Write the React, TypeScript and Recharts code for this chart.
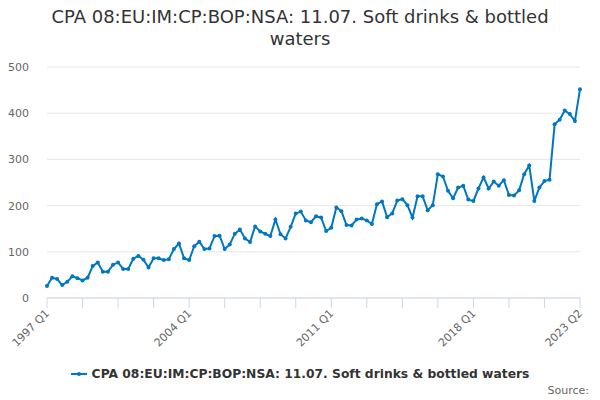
import { CartesianGrid, Line, LineChart, XAxis, YAxis } from "recharts"

const title = "CPA 08:EU:IM:CP:BOP:NSA: 11.07. Soft drinks & bottled waters"

// quarterly values, 1997 Q1 .. 2023 Q2
const values = [
  26, 44, 41, 28, 35, 47, 43, 38, 44, 69, 77, 57, 57, 72, 77, 63,
  63, 85, 91, 83, 66, 86, 86, 82, 84, 106, 118, 86, 82, 112, 122, 106,
  107, 134, 135, 106, 116, 139, 148, 129, 121, 155, 144, 139, 134, 170, 138, 129,
  154, 183, 187, 168, 164, 177, 174, 145, 152, 196, 188, 158, 157, 170, 172, 168,
  160, 203, 209, 175, 183, 211, 214, 201, 174, 220, 220, 190, 201, 268, 263, 232,
  216, 239, 243, 213, 210, 237, 261, 237, 252, 243, 255, 223, 222, 233, 268, 287,
  210, 239, 253, 256, 376, 386, 406, 398, 383, 452,
]

const startYear = 1997
const startQuarter = 1
const xTicks = [0, 7, 14, 21, 28, 35, 42, 49, 56, 63, 70, 77, 84, 91, 98, 105]
const labelledTicks = [0, 28, 56, 84, 105]
const yTicks = [0, 100, 200, 300, 400, 500]

const quarterLabel = (i: number) => {
  const q = startQuarter - 1 + i
  return `${startYear + Math.floor(q / 4)} Q${(q % 4) + 1}`
}

const data = values.map((v, i) => ({ idx: i, period: quarterLabel(i), value: v }))

const XTick = (props: any) => {
  const { x, y, payload } = props
  if (!labelledTicks.includes(payload.value)) return null
  return (
    <text
      x={x + 3}
      y={y + 4}
      textAnchor="end"
      fontSize={11}
      fill="#666666"
      fontFamily="DejaVu Sans"
      transform={`rotate(-45, ${x + 3}, ${y + 4})`}
    >
      {quarterLabel(payload.value)}
    </text>
  )
}

const YTick = (props: any) => {
  const { y, payload } = props
  return (
    <text x={29} y={y + 4} textAnchor="end" fontSize={11} fill="#666666" fontFamily="DejaVu Sans">
      {payload.value}
    </text>
  )
}

export default function App() {
  return (
    <div
      style={{
        position: "absolute",
        top: 0,
        left: 0,
        width: 600,
        height: 400,
        background: "#fff",
        fontFamily: "DejaVu Sans",
      }}
    >
      <div
        style={{
          position: "absolute",
          top: 6,
          left: 40,
          width: 520,
          textAlign: "center",
          fontSize: 18,
          lineHeight: "22px",
          color: "#333333",
        }}
      >
        {title}
      </div>
      <LineChart
        width={600}
        height={400}
        data={data}
        margin={{ top: 67, right: 20, left: 0, bottom: 42 }}
      >
        <CartesianGrid vertical={false} stroke="#e6e6e6" />
        <XAxis
          dataKey="idx"
          type="number"
          domain={[0, 105]}
          ticks={xTicks}
          interval={0}
          tick={<XTick />}
          tickSize={10}
          tickLine={{ stroke: "#ccd6eb" }}
          axisLine={{ stroke: "#ccd6eb" }}
          height={60}
        />
        <YAxis
          width={47}
          domain={[0, 500]}
          ticks={yTicks}
          tick={<YTick />}
          axisLine={false}
          tickLine={false}
        />
        <Line
          dataKey="value"
          type="linear"
          stroke="#0077bf"
          strokeWidth={2}
          dot={{ r: 2, fill: "#0077bf", stroke: "#0077bf", strokeWidth: 0 }}
          isAnimationActive={false}
        />
      </LineChart>
      <div
        style={{
          position: "absolute",
          top: 367,
          left: 0,
          width: 600,
          display: "flex",
          justifyContent: "center",
          alignItems: "center",
          fontSize: 12.3,
          fontWeight: "bold",
          color: "#333333",
        }}
      >
        <svg width={16} height={10} style={{ marginRight: 5 }}>
          <line x1={0} y1={5} x2={16} y2={5} stroke="#0077bf" strokeWidth={2} />
          <circle cx={8} cy={5} r={2} fill="#0077bf" />
        </svg>
        <span>{title}</span>
      </div>
      <div
        style={{
          position: "absolute",
          top: 384,
          right: 11,
          fontSize: 11,
          color: "#666666",
        }}
      >
        Source:
      </div>
    </div>
  )
}
